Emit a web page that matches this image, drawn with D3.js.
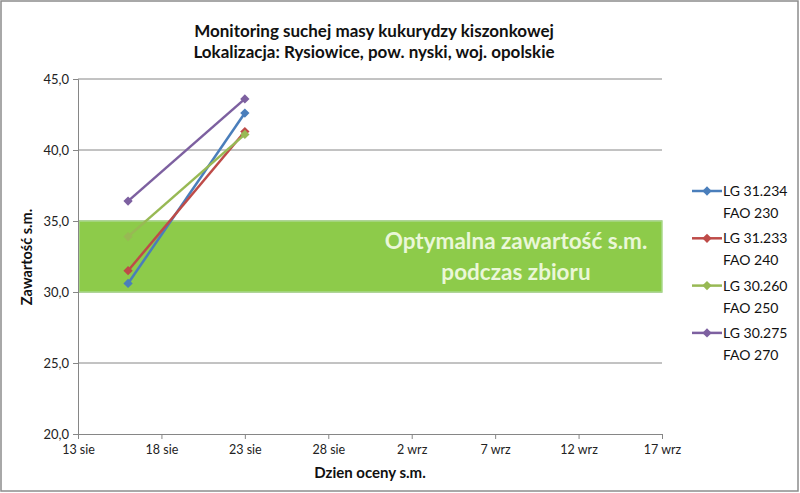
<!DOCTYPE html>
<html>
<head>
<meta charset="utf-8">
<script src="https://cdn.jsdelivr.net/npm/d3@7"></script>
<style>
  body { margin: 0; background: #fff; }
  text { font-family: Lato, "Open Sans", sans-serif; }
</style>
</head>
<body>
<div id="canvas"></div>
<script>
"use strict"

let svgWidth = 800
let svgHeight = 493

/* data */
let seriesNames = [["LG 31.234", "FAO 230"], ["LG 31.233", "FAO 240"], ["LG 30.260", "FAO 250"], ["LG 30.275", "FAO 270"]]
let seriesColors = ["#4a7ebb", "#be4b48", "#98b954", "#7d60a0"]
let sampleDates = ["2012-08-16", "2012-08-23"]
let lg31234 = [30.6, 42.6]
let lg31233 = [31.5, 41.3]
let lg30260 = [33.9, 41.1]
let lg30275 = [36.4, 43.6]
let seriesValues = [lg31234, lg31233, lg30260, lg30275]

let xTickDates = ["2012-08-13", "2012-08-18", "2012-08-23", "2012-08-28", "2012-09-02", "2012-09-07", "2012-09-12", "2012-09-17"]
let xTickLabels = ["13 sie", "18 sie", "23 sie", "28 sie", "2 wrz", "7 wrz", "12 wrz", "17 wrz"]
let yTicks = [20, 25, 30, 35, 40, 45]
let optimalRange = [30, 35]

let parse = d3.timeParse("%Y-%m-%d")

/* plot area */
let plotLeft = 78, plotRight = 662, plotTop = 79, plotBottom = 434

let svg = d3.select("#canvas")
    .append("svg")
    .attr("width", svgWidth)
    .attr("height", svgHeight)

/* outer border */
svg.append("rect")
   .attr("x", 1)
   .attr("y", 1)
   .attr("width", svgWidth - 3)
   .attr("height", svgHeight - 3)
   .attr("fill", "#fff")
   .attr("stroke", "#8c8c8c")
   .attr("stroke-width", 1.5)

let xScale = d3.scaleTime()
    .domain([parse(xTickDates[0]), parse(xTickDates[xTickDates.length - 1])])
    .range([plotLeft, plotRight])

let yScale = d3.scaleLinear()
    .domain([20, 45])
    .range([plotBottom, plotTop])

/* gridlines */
svg.selectAll(".grid")
   .data(yTicks.filter(d => d > 20))
   .join("line")
   .attr("class", "grid")
   .attr("x1", plotLeft)
   .attr("x2", plotRight)
   .attr("y1", d => yScale(d))
   .attr("y2", d => yScale(d))
   .attr("stroke", "#868686")
   .attr("stroke-width", 1)

/* optimal band behind the lines */
svg.append("rect")
   .attr("x", plotLeft + 1)
   .attr("y", yScale(optimalRange[1]))
   .attr("width", plotRight - plotLeft - 1)
   .attr("height", yScale(optimalRange[0]) - yScale(optimalRange[1]))
   .attr("fill", "#8dcb4a")
   .attr("stroke", "#a9d98a")
   .attr("stroke-width", 1.5)

svg.append("text")
   .attr("x", 516)
   .attr("y", 249)
   .attr("text-anchor", "middle")
   .attr("font-size", 22.5)
   .attr("font-weight", "bold")
   .attr("fill", "#eaf7d8")
   .text("Optymalna zawartość s.m.")

svg.append("text")
   .attr("x", 516)
   .attr("y", 280)
   .attr("text-anchor", "middle")
   .attr("font-size", 22.5)
   .attr("font-weight", "bold")
   .attr("fill", "#eaf7d8")
   .text("podczas zbioru")

/* y axis */
let yAxis = d3.axisLeft(yScale)
    .tickValues(yTicks)
    .tickSize(5)
    .tickFormat(d => d3.format(".1f")(d).replace(".", ","))

let gy = svg.append("g")
   .attr("transform", "translate(" + plotLeft + ",0)")
   .call(yAxis)
gy.select(".domain").attr("stroke", "#868686")
gy.selectAll(".tick line").attr("stroke", "#868686")
gy.selectAll(".tick text")
  .attr("font-family", "Lato, sans-serif")
  .attr("font-size", 13)
  .attr("fill", "#222")
  .attr("x", -9)

/* x axis */
let xAxis = d3.axisBottom(xScale)
    .tickValues(xTickDates.map(parse))
    .tickSize(5)
    .tickFormat((d, i) => xTickLabels[i])

let gx = svg.append("g")
   .attr("transform", "translate(0," + plotBottom + ")")
   .call(xAxis)
gx.select(".domain").attr("stroke", "#868686")
gx.selectAll(".tick line").attr("stroke", "#868686")
gx.selectAll(".tick text")
  .attr("font-family", "Lato, sans-serif")
  .attr("font-size", 12.5)
  .attr("fill", "#222")
  .attr("y", 11)

/* lines and markers */
let diamond = d3.symbol().type(d3.symbolDiamond2).size(55)
let line = d3.line()
    .x((d, i) => xScale(parse(sampleDates[i])))
    .y(d => yScale(d))

seriesValues.forEach(function(vals, s) {
  svg.append("path")
     .attr("d", line(vals))
     .attr("fill", "none")
     .attr("stroke", seriesColors[s])
     .attr("stroke-width", 2.5)

  svg.selectAll(".pt" + s)
     .data(vals)
     .join("path")
     .attr("class", "pt" + s)
     .attr("d", diamond)
     .attr("transform", (d, i) => "translate(" + xScale(parse(sampleDates[i])) + "," + yScale(d) + ")")
     .attr("fill", seriesColors[s])
})

/* title */
svg.append("text")
   .attr("x", 374)
   .attr("y", 37)
   .attr("text-anchor", "middle")
   .attr("font-size", 17)
   .attr("font-weight", "bold")
   .attr("fill", "#111")
   .text("Monitoring suchej masy kukurydzy kiszonkowej")

svg.append("text")
   .attr("x", 374)
   .attr("y", 58)
   .attr("text-anchor", "middle")
   .attr("font-size", 17)
   .attr("font-weight", "bold")
   .attr("fill", "#111")
   .text("Lokalizacja: Rysiowice, pow. nyski, woj. opolskie")

/* axis titles */
svg.append("text")
   .attr("x", 370)
   .attr("y", 478)
   .attr("text-anchor", "middle")
   .attr("font-size", 15)
   .attr("font-weight", "bold")
   .attr("fill", "#111")
   .text("Dzien oceny s.m.")

svg.append("text")
   .attr("transform", "translate(32,257) rotate(-90)")
   .attr("text-anchor", "middle")
   .attr("font-size", 14.5)
   .attr("font-weight", "bold")
   .attr("fill", "#111")
   .text("Zawartość s.m.")

/* legend */
let legend = svg.selectAll(".legend")
   .data(seriesNames)
   .join("g")
   .attr("class", "legend")
   .attr("transform", (d, i) => "translate(692," + (196 + i * 47.3) + ")")

legend.append("line")
   .attr("x1", 0)
   .attr("x2", 30)
   .attr("y1", -5)
   .attr("y2", -5)
   .attr("stroke", (d, i) => seriesColors[i])
   .attr("stroke-width", 2.5)

legend.append("path")
   .attr("d", diamond)
   .attr("transform", "translate(15,-5)")
   .attr("fill", (d, i) => seriesColors[i])

legend.append("text")
   .attr("x", 31)
   .attr("y", 0)
   .attr("font-size", 14)
   .attr("fill", "#111")
   .text(d => d[0])

legend.append("text")
   .attr("x", 31)
   .attr("y", 22)
   .attr("font-size", 14)
   .attr("fill", "#111")
   .text(d => d[1])
</script>
</body>
</html>
